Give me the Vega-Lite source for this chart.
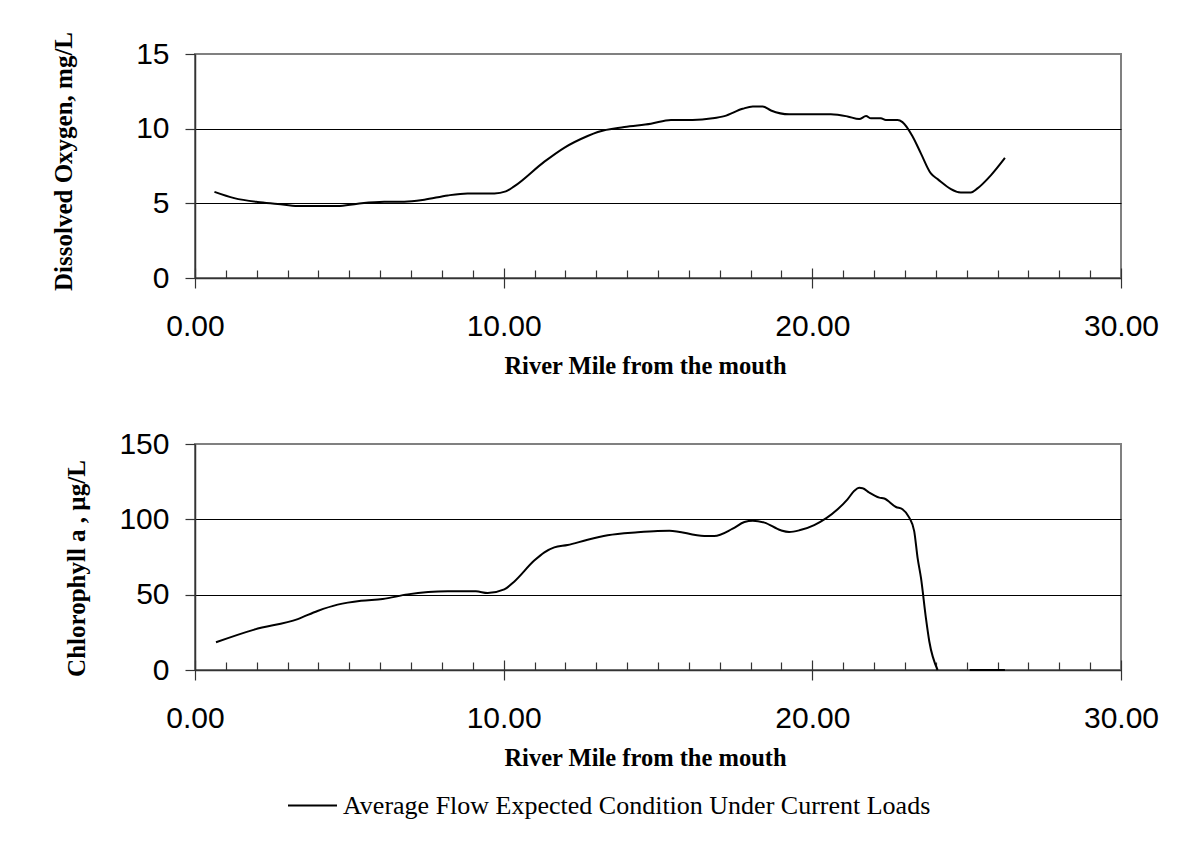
{
  "$schema": "https://vega.github.io/schema/vega-lite/v6.json",
  "background": "white",
  "autosize": {"type": "pad"},
  "padding": {"left": 50, "top": 30, "right": 10, "bottom": 10},
  "bounds": "flush",
  "spacing": 166,
  "datasets": {
    "do": [
      {"mile": 0.63, "do": 5.77}, {"mile": 1.27, "do": 5.35}, {"mile": 2.03, "do": 5.09}, {"mile": 2.68, "do": 4.96},
      {"mile": 3.33, "do": 4.82}, {"mile": 4.62, "do": 4.82}, {"mile": 5.27, "do": 4.98}, {"mile": 6.13, "do": 5.11},
      {"mile": 6.78, "do": 5.11}, {"mile": 7.43, "do": 5.24}, {"mile": 8.19, "do": 5.53}, {"mile": 8.83, "do": 5.66},
      {"mile": 9.7, "do": 5.66}, {"mile": 10.07, "do": 5.8}, {"mile": 10.34, "do": 6.13}, {"mile": 11.32, "do": 7.79},
      {"mile": 11.96, "do": 8.72}, {"mile": 12.72, "do": 9.51}, {"mile": 13.05, "do": 9.78}, {"mile": 13.91, "do": 10.11},
      {"mile": 14.77, "do": 10.33}, {"mile": 15.42, "do": 10.58}, {"mile": 16.12, "do": 10.58}, {"mile": 16.77, "do": 10.69},
      {"mile": 17.15, "do": 10.84}, {"mile": 17.74, "do": 11.33}, {"mile": 18.07, "do": 11.49}, {"mile": 18.39, "do": 11.49},
      {"mile": 18.66, "do": 11.22}, {"mile": 19.25, "do": 10.96}, {"mile": 20.6, "do": 10.96}, {"mile": 21.14, "do": 10.82},
      {"mile": 21.52, "do": 10.64}, {"mile": 21.74, "do": 10.84}, {"mile": 21.9, "do": 10.69}, {"mile": 22.22, "do": 10.69},
      {"mile": 22.38, "do": 10.58}, {"mile": 22.76, "do": 10.58}, {"mile": 22.92, "do": 10.44}, {"mile": 23.24, "do": 9.51},
      {"mile": 23.52, "do": 8.33}, {"mile": 23.84, "do": 7.0}, {"mile": 24.06, "do": 6.62}, {"mile": 24.81, "do": 5.73},
      {"mile": 25.14, "do": 5.73}, {"mile": 25.35, "do": 6.0}, {"mile": 25.79, "do": 6.89}, {"mile": 26.24, "do": 8.04}
    ],
    "chl": [
      {"mile": 0.68, "chl": 18.4, "seg": 1}, {"mile": 1.92, "chl": 26.8, "seg": 1}, {"mile": 3.33, "chl": 33.8, "seg": 1},
      {"mile": 3.97, "chl": 39.2, "seg": 1}, {"mile": 4.62, "chl": 43.4, "seg": 1}, {"mile": 5.38, "chl": 46.0, "seg": 1},
      {"mile": 6.08, "chl": 47.1, "seg": 1}, {"mile": 6.89, "chl": 50.2, "seg": 1}, {"mile": 8.19, "chl": 52.2, "seg": 1},
      {"mile": 9.1, "chl": 52.2, "seg": 1}, {"mile": 9.48, "chl": 51.1, "seg": 1}, {"mile": 10.02, "chl": 53.5, "seg": 1},
      {"mile": 10.34, "chl": 58.6, "seg": 1}, {"mile": 10.99, "chl": 72.6, "seg": 1}, {"mile": 11.32, "chl": 78.1, "seg": 1},
      {"mile": 11.64, "chl": 81.4, "seg": 1}, {"mile": 12.07, "chl": 82.9, "seg": 1}, {"mile": 12.72, "chl": 86.5, "seg": 1},
      {"mile": 13.37, "chl": 89.4, "seg": 1}, {"mile": 14.34, "chl": 91.4, "seg": 1}, {"mile": 14.99, "chl": 92.3, "seg": 1},
      {"mile": 15.37, "chl": 92.5, "seg": 1}, {"mile": 16.5, "chl": 88.9, "seg": 1}, {"mile": 16.82, "chl": 88.9, "seg": 1},
      {"mile": 17.42, "chl": 93.8, "seg": 1}, {"mile": 17.8, "chl": 98.2, "seg": 1}, {"mile": 18.07, "chl": 99.1, "seg": 1},
      {"mile": 18.45, "chl": 97.8, "seg": 1}, {"mile": 18.98, "chl": 92.7, "seg": 1}, {"mile": 19.25, "chl": 91.6, "seg": 1},
      {"mile": 19.58, "chl": 92.7, "seg": 1}, {"mile": 20.06, "chl": 96.2, "seg": 1}, {"mile": 20.82, "chl": 106.7, "seg": 1},
      {"mile": 21.14, "chl": 113.3, "seg": 1}, {"mile": 21.36, "chl": 118.9, "seg": 1}, {"mile": 21.52, "chl": 120.9, "seg": 1},
      {"mile": 21.63, "chl": 120.7, "seg": 1}, {"mile": 21.84, "chl": 117.8, "seg": 1}, {"mile": 22.17, "chl": 114.4, "seg": 1},
      {"mile": 22.33, "chl": 113.8, "seg": 1}, {"mile": 22.71, "chl": 108.2, "seg": 1}, {"mile": 22.92, "chl": 106.7, "seg": 1},
      {"mile": 23.14, "chl": 101.1, "seg": 1}, {"mile": 23.3, "chl": 92.2, "seg": 1}, {"mile": 23.41, "chl": 74.4, "seg": 1},
      {"mile": 23.52, "chl": 61.1, "seg": 1}, {"mile": 23.68, "chl": 34.4, "seg": 1}, {"mile": 23.79, "chl": 18.9, "seg": 1},
      {"mile": 24.06, "chl": 0, "seg": 1},
      {"mile": 25.1, "chl": 0, "seg": 2}, {"mile": 26.24, "chl": 0, "seg": 2}
    ]
  },
  "config": {
    "view": {"stroke": "#808080", "strokeWidth": 2},
    "axis": {
      "labelFont": "Liberation Sans", "labelFontSize": 30, "labelColor": "black",
      "titleFont": "Liberation Serif", "titleFontWeight": "bold", "titleFontSize": 25, "titleColor": "black",
      "domainColor": "#333333", "domainWidth": 1.5, "tickColor": "#333333", "tickWidth": 1.2,
      "gridColor": "black", "gridWidth": 1.2
    }
  },
  "vconcat": [
    {
      "width": 926,
      "height": 224,
      "data": {"name": "do"},
      "layer": [
        {
          "mark": {"type": "line", "strokeWidth": 2, "interpolate": "monotone"},
          "encoding": {
            "x": {
              "field": "mile", "type": "quantitative",
              "scale": {"domain": [0, 30], "nice": false},
              "axis": {
                "orient": "bottom",
                "title": "River Mile from the mouth",
                "values": [0,1,2,3,4,5,6,7,8,9,10,11,12,13,14,15,16,17,18,19,20,21,22,23,24,25,26,27,28,29,30],
                "labelExpr": "datum.value % 10 === 0 ? format(datum.value, '.2f') : ''",
                "tickSize": {"condition": {"test": "datum.value % 10 === 0", "value": 10}, "value": -8},
                "labelPadding": 47,
                "labelBaseline": "alphabetic",
                "labelFlush": false, "labelOverlap": false, "labelBound": false,
                "grid": false,
                "titleFontSize": 24.5,
                "titleX": 450, "titleY": 95, "titleAlign": "center", "titleBaseline": "alphabetic"
              }
            },
            "y": {
              "field": "do", "type": "quantitative",
              "scale": {"domain": [0, 15], "nice": false},
              "axis": {
                "title": "Dissolved Oxygen, mg/L",
                "values": [0, 5, 10, 15],
                "tickSize": 10, "labelPadding": 16,
                "grid": true,
                "gridColor": {"condition": {"test": "datum.value === 15", "value": "#808080"}, "value": "black"},
                "titleAngle": -90, "titleX": -124, "titleY": 107, "titleAlign": "center", "titleBaseline": "alphabetic"
              }
            },
            "color": {
              "datum": "Average Flow Expected Condition Under Current Loads",
              "type": "nominal",
              "scale": {"range": ["black"]},
              "legend": {
                "orient": "none", "legendX": 92, "legendY": 726,
                "title": null, "symbolType": "stroke", "symbolSize": 2401, "symbolStrokeWidth": 2,
                "labelFont": "Liberation Serif", "labelFontSize": 26, "labelColor": "black",
                "labelOffset": 5, "labelLimit": 0
              }
            }
          }
        },
        {
          "mark": {"type": "line", "strokeOpacity": 0},
          "encoding": {
            "x": {
              "field": "mile", "type": "quantitative",
              "axis": {"orient": "bottom", "values": [0, 10, 20, 30], "tickSize": -10, "labels": false, "domain": false, "grid": false, "title": null}
            },
            "y": {"field": "do", "type": "quantitative"}
          }
        }
      ],
      "resolve": {"axis": {"x": "independent"}}
    },
    {
      "width": 926,
      "height": 226,
      "data": {"name": "chl"},
      "layer": [
        {
          "mark": {"type": "line", "strokeWidth": 2, "interpolate": "monotone"},
          "encoding": {
            "x": {
              "field": "mile", "type": "quantitative",
              "scale": {"domain": [0, 30], "nice": false},
              "axis": {
                "orient": "bottom",
                "title": "River Mile from the mouth",
                "values": [0,1,2,3,4,5,6,7,8,9,10,11,12,13,14,15,16,17,18,19,20,21,22,23,24,25,26,27,28,29,30],
                "labelExpr": "datum.value % 10 === 0 ? format(datum.value, '.2f') : ''",
                "tickSize": {"condition": {"test": "datum.value % 10 === 0", "value": 10}, "value": -8},
                "labelPadding": 47,
                "labelBaseline": "alphabetic",
                "labelFlush": false, "labelOverlap": false, "labelBound": false,
                "grid": false,
                "titleFontSize": 24.5,
                "titleX": 450, "titleY": 95, "titleAlign": "center", "titleBaseline": "alphabetic"
              }
            },
            "y": {
              "field": "chl", "type": "quantitative",
              "scale": {"domain": [0, 150], "nice": false},
              "axis": {
                "title": "Chlorophyll a , µg/L",
                "values": [0, 50, 100, 150],
                "tickSize": 10, "labelPadding": 16,
                "grid": true,
                "gridColor": {"condition": {"test": "datum.value === 150", "value": "#808080"}, "value": "black"},
                "titleAngle": -90, "titleX": -111, "titleY": 124, "titleAlign": "center", "titleBaseline": "alphabetic"
              }
            },
            "detail": {"field": "seg", "type": "nominal"},
            "color": {
              "datum": "Average Flow Expected Condition Under Current Loads",
              "type": "nominal",
              "scale": {"range": ["black"]}
            }
          }
        },
        {
          "mark": {"type": "line", "strokeOpacity": 0},
          "encoding": {
            "x": {
              "field": "mile", "type": "quantitative",
              "axis": {"orient": "bottom", "values": [0, 10, 20, 30], "tickSize": -10, "labels": false, "domain": false, "grid": false, "title": null}
            },
            "y": {"field": "chl", "type": "quantitative"},
            "detail": {"field": "seg", "type": "nominal"}
          }
        }
      ],
      "resolve": {"axis": {"x": "independent"}}
    }
  ]
}
